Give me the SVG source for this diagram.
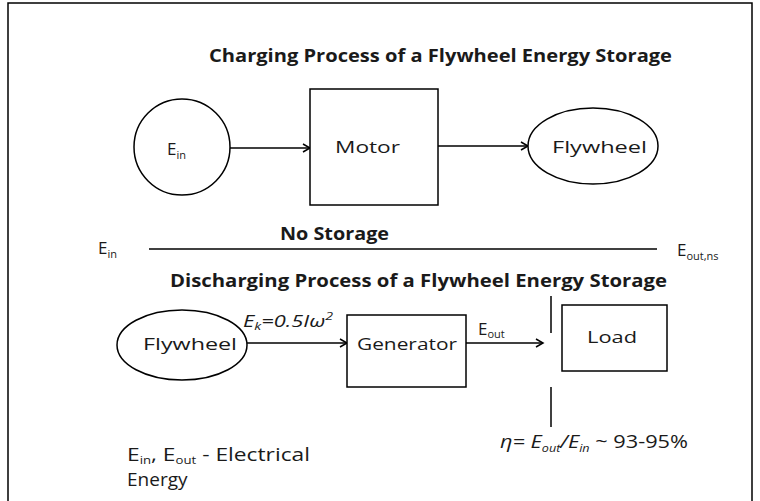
<svg xmlns="http://www.w3.org/2000/svg" width="760" height="501" viewBox="0 0 760 501">
<style>
text{font-family:"Open Sans","Liberation Sans",sans-serif;fill:#1a1a1a;font-size:17px}
.b{font-weight:bold}
.i{font-style:italic}
.s{font-size:11px}
.big{font-size:19px}
.shape{fill:#fff;stroke:#000;stroke-width:1.5}
.ln{stroke:#000;stroke-width:1.5;fill:none}
</style>
<defs>
<marker id="ah" markerWidth="10" markerHeight="10" refX="8" refY="5" orient="auto" markerUnits="userSpaceOnUse">
<path d="M1,1 L8,5 L1,9" fill="none" stroke="#000" stroke-width="1.5"/>
</marker>
</defs>
<rect width="760" height="501" fill="#fff"/>
<path d="M8,501 V3 H752 V501" fill="none" stroke="#000" stroke-width="1.5"/>

<text class="b" x="209" y="62" textLength="463" lengthAdjust="spacingAndGlyphs">Charging Process of  a Flywheel Energy Storage</text>
<text class="b" x="280" y="240" textLength="109" lengthAdjust="spacingAndGlyphs">No Storage</text>
<text class="b" x="170" y="287" textLength="497" lengthAdjust="spacingAndGlyphs">Discharging Process of  a Flywheel Energy Storage</text>

<g id="connectors">
<line class="ln" x1="230" y1="148" x2="310" y2="148" marker-end="url(#ah)"/>
<line class="ln" x1="438" y1="146" x2="528" y2="146" marker-end="url(#ah)"/>
<line class="ln" x1="149" y1="249" x2="657" y2="249"/>
<line class="ln" x1="247" y1="343" x2="347" y2="343" marker-end="url(#ah)"/>
<line class="ln" x1="466" y1="343" x2="543" y2="343" marker-end="url(#ah)"/>
<line class="ln" x1="551" y1="296" x2="551" y2="333"/>
<line class="ln" x1="551" y1="387" x2="551" y2="427"/>
</g>

<g id="ein">
<circle class="shape" cx="182" cy="147" r="48"/>
<text x="167" y="155">E<tspan class="s" dy="4">in</tspan></text>
</g>
<g id="motor">
<rect class="shape" x="310" y="89" width="128" height="116"/>
<text x="335" y="153" textLength="65" lengthAdjust="spacingAndGlyphs">Motor</text>
</g>
<g id="flywheel1">
<ellipse class="shape" cx="593" cy="146" rx="65" ry="38"/>
<text x="552" y="153" textLength="95" lengthAdjust="spacingAndGlyphs">Flywheel</text>
</g>

<g id="ein-ns"><text x="98" y="254">E<tspan class="s" dy="4">in</tspan></text></g>
<g id="eout-ns"><text x="677" y="256">E<tspan class="s" dy="4">out,ns</tspan></text></g>

<g id="flywheel2">
<ellipse class="shape" cx="182" cy="345" rx="65" ry="35"/>
<text x="143" y="350" textLength="94" lengthAdjust="spacingAndGlyphs">Flywheel</text>
</g>
<g id="ek-label">
<text class="i" x="243" y="327" textLength="90" lengthAdjust="spacingAndGlyphs">E<tspan class="s" dy="3">k</tspan><tspan dy="-3">=0.5Iω</tspan><tspan class="s" dy="-7">2</tspan></text>
</g>
<g id="generator">
<rect class="shape" x="347" y="315" width="119" height="72"/>
<text x="357" y="350" textLength="100" lengthAdjust="spacingAndGlyphs">Generator</text>
</g>
<g id="eout-label"><text x="478" y="335">E<tspan class="s" dy="3">out</tspan></text></g>
<g id="load">
<rect class="shape" x="562" y="305" width="105" height="66"/>
<text x="587" y="343" textLength="50" lengthAdjust="spacingAndGlyphs">Load</text>
</g>

<g id="efficiency">
<text class="big" x="500" y="448" textLength="188" lengthAdjust="spacingAndGlyphs"><tspan class="i">η= E</tspan><tspan class="s i" dy="4">out</tspan><tspan class="i" dy="-4">/E</tspan><tspan class="s i" dy="4">in</tspan><tspan dy="-4"> ~ 93-95%</tspan></text>
</g>
<g id="legend">
<text class="big" x="127" y="461" textLength="183" lengthAdjust="spacingAndGlyphs">E<tspan class="s" dy="3">in</tspan><tspan dy="-3">, E</tspan><tspan class="s" dy="3">out</tspan><tspan dy="-3"> - Electrical</tspan></text>
<text class="big" x="127" y="486">Energy</text>
</g>
</svg>
